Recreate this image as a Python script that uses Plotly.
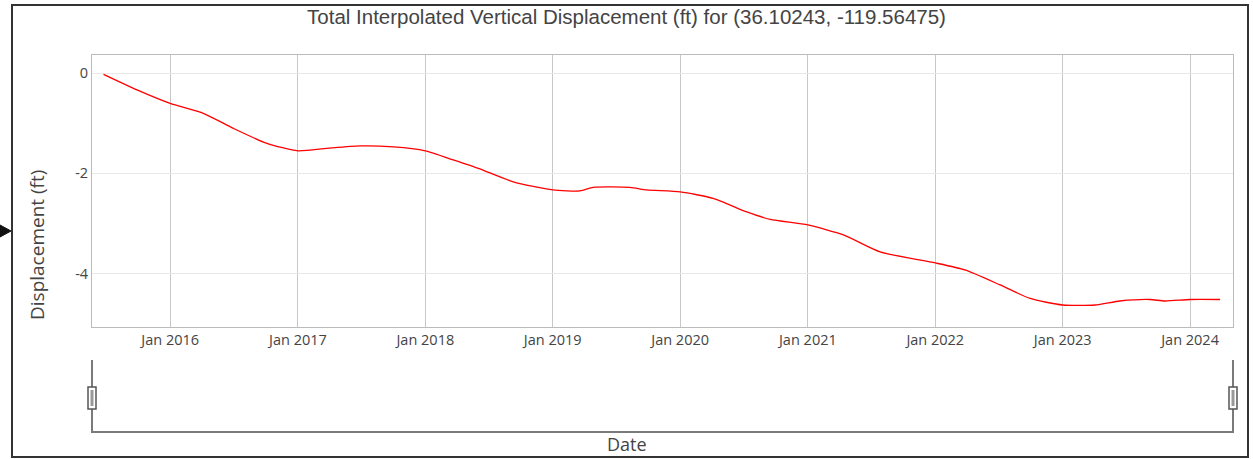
import plotly.graph_objects as go

# Interpolated vertical displacement time series (ft)
dates = [
    "2015-06-24", "2015-09-28", "2016-01-01", "2016-04-05", "2016-06-30",
    "2016-10-04", "2017-01-01", "2017-03-25", "2017-06-28", "2017-10-02",
    "2018-01-01", "2018-03-22", "2018-06-02", "2018-09-10", "2019-01-01",
    "2019-03-20", "2019-04-27", "2019-08-10", "2019-09-27", "2020-01-01",
    "2020-04-05", "2020-07-10", "2020-09-15", "2021-01-01", "2021-04-13",
    "2021-07-27", "2022-01-01", "2022-03-27", "2022-07-06", "2022-09-30",
    "2023-01-01", "2023-04-04", "2023-06-14", "2023-09-08", "2023-10-21",
    "2024-01-01", "2024-03-27",
]
displacement = [
    -0.02, -0.33, -0.60, -0.80, -1.10,
    -1.40, -1.55, -1.50, -1.45, -1.47,
    -1.55, -1.73, -1.90, -2.17, -2.33,
    -2.35, -2.28, -2.28, -2.33, -2.37,
    -2.50, -2.77, -2.92, -3.03, -3.23,
    -3.57, -3.79, -3.93, -4.23, -4.50,
    -4.63, -4.63, -4.55, -4.52, -4.55,
    -4.52, -4.52,
]

title_text = "Total Interpolated Vertical Displacement (ft) for (36.10243, -119.56475)"
y_title = "Displacement (ft)"
x_title = "Date"
y_ticks = [0, -2, -4]

W, H = 1253, 459
ML, MR, MT, MB = 92, 20, 55, 132
PW, PH = W - ML - MR, H - MT - MB


def px(x):
    """pixel column -> paper x"""
    return (x - ML) / PW


def py(y):
    """pixel row -> paper y"""
    return (H - MB - y) / PH


fig = go.Figure()
fig.add_trace(go.Scatter(
    x=dates, y=displacement, mode="lines",
    line=dict(color="red", width=1.3, shape="spline", smoothing=0.6),
    showlegend=False,
))

shapes = []
# outer frame
shapes.append(dict(type="rect", xref="paper", yref="paper",
                   x0=px(12), x1=px(1248), y0=py(457), y1=py(5),
                   line=dict(color="#333", width=2)))
# side pointer
shapes.append(dict(type="path", xref="paper", yref="paper",
                   path=f"M {px(0)} {py(225)} L {px(11)} {py(231)} L {px(0)} {py(237)} Z",
                   fillcolor="#111", line=dict(color="#111", width=1)))
# range selector outline
shapes.append(dict(type="path", xref="paper", yref="paper",
                   path=(f"M {px(92)} {py(360)} L {px(92)} {py(432)} "
                         f"L {px(1233)} {py(432)} L {px(1233)} {py(360)}"),
                   line=dict(color="#7a7a7a", width=2)))
# range selector handles
for hx in (92, 1233):
    shapes.append(dict(type="rect", xref="paper", yref="paper",
                       x0=px(hx - 4), x1=px(hx + 4), y0=py(409), y1=py(387),
                       fillcolor="white", line=dict(color="#555", width=1.5)))
    shapes.append(dict(type="rect", xref="paper", yref="paper",
                       x0=px(hx - 1.5), x1=px(hx + 1.5), y0=py(406), y1=py(390),
                       fillcolor="#999", line=dict(width=0)))

fig.update_layout(
    width=W, height=H,
    margin=dict(l=ML, r=MR, t=MT, b=MB),
    paper_bgcolor="white", plot_bgcolor="white",
    font=dict(family="Open Sans, Arial, sans-serif", color="#444"),
    title=dict(text=title_text, x=0.5, xref="container", xanchor="center",
               y=1 - 17 / H, yanchor="middle",
               font=dict(family="Liberation Sans, Arial", size=20.5, color="#444")),
    shapes=shapes,
    annotations=[
        dict(text=x_title, xref="paper", yref="paper", x=px(627), y=py(458),
             xanchor="center", yanchor="bottom", showarrow=False,
             font=dict(size=18, color="#444")),
        dict(text=y_title, xref="paper", yref="paper", x=px(37), y=py(245),
             xanchor="center", yanchor="middle", textangle=-90, showarrow=False,
             font=dict(size=19, color="#444")),
    ],
    xaxis=dict(
        type="date",
        range=["2015-05-22", "2024-05-03"],
        dtick="M12", tick0="2016-01-01", tickformat="%b %Y",
        showgrid=True, gridcolor="#c8c8c8", gridwidth=1,
        showline=True, linecolor="#bbb", linewidth=1, mirror=True,
        ticks="", tickfont=dict(size=14.5, color="#444"),
        zeroline=False,
    ),
    yaxis=dict(
        range=[-5.07, 0.366],
        tickvals=y_ticks, ticktext=[str(v) for v in y_ticks],
        showgrid=True, gridcolor="#e8e8e8", gridwidth=1,
        showline=True, linecolor="#bbb", linewidth=1, mirror=True,
        ticks="", tickfont=dict(size=14.5, color="#444"),
        zeroline=False,
    ),
)

fig.write_html("out.html")
